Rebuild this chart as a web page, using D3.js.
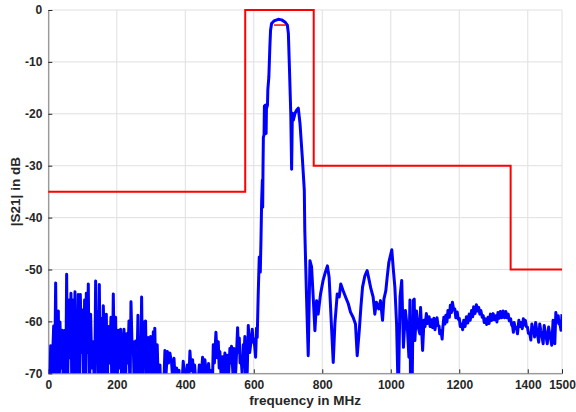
<!DOCTYPE html>
<html>
<head>
<meta charset="utf-8">
<script src="https://cdn.jsdelivr.net/npm/d3@7"></script>
<style>
  body { margin: 0; background: #fff; }
  text { font-family: "Liberation Sans", Arial, sans-serif; }
</style>
</head>
<body>
<div id="wrapper"></div>
<script>
// values (MHz, dB)
const xTicks = [0, 200, 400, 600, 800, 1000, 1200, 1400, 1500]
const yTicks = [0, -10, -20, -30, -40, -50, -60, -70]

// limit mask
const maskF = [0, 575, 575, 775, 775, 1350, 1350, 1500]
const maskDb = [-35, -35, 0, 0, -30, -30, -50, -50]
// short -3 dB marker in the passband
const markF = [659, 694]
const markDb = [-2.9, -2.9]

// stopband below the filter (very noisy, dips go off the bottom)
const lowF = [3, 7, 9, 12, 15.7, 18, 21.5, 24, 26, 29.3, 31.5, 34.1, 37, 41, 44, 48.7, 51, 53.6, 56, 60.4,
  63, 66.2, 69, 72, 75, 77.9, 80, 82.8, 85, 87.6, 90.5, 93.5, 97, 100, 103, 106, 108.5, 111, 114, 116.8,
  120, 123.6, 127, 131.4, 135, 138.2, 140.5, 143, 146, 149, 151.5, 153.8, 157, 160.6, 164, 166, 169.4, 172, 175.2, 179,
  183, 186, 189.8, 193, 196.6, 200, 204.4, 207.5, 211.2, 215, 218, 221, 225, 228.7, 232, 235.6, 238.5, 241.4, 245, 248,
  251.5, 255, 258.5, 261.8, 264, 266.6, 269.5, 272.5, 276, 279.3, 281.5, 284, 288, 292, 295.5, 299, 303, 306.6, 309, 311,
  315, 318, 322, 326, 329, 336, 340.5, 344, 347.5, 351, 355, 360, 363, 367, 371, 374.7, 378, 381.6, 387, 394,
  399, 406, 410, 413.6, 417, 421.4, 425, 427.3, 434, 441, 446, 450.6, 454, 457.4, 462, 468, 472, 476.9, 479, 481.7,
  485, 489.5, 493, 496.3, 499, 501, 505, 509, 512, 515.7, 519, 522.5, 526, 530.3, 533, 535, 539, 542, 545, 548,
  552.8, 555, 557.7, 560, 562.5, 566, 569.3, 571, 574, 577, 581, 584, 588, 591, 595.6, 598, 600.4, 603, 605.3, 608, 610]
const lowDb = [-75, -64.7, -76, -68, -60.9, -74, -52.6, -70, -64, -58, -76, -60.1, -69, -61.7, -75, -61.7, -72, -50.9, -74, -55.9,
  -67, -54.6, -76, -55.9, -70, -54.3, -74, -59.4, -68, -54.8, -76, -54.8, -66, -57.8, -75, -55.9, -72, -54.6, -66, -52.8,
  -76, -58.6, -69, -63.9, -76, -52.2, -66, -58.1, -74, -52.9, -70, -59.4, -76, -57, -66, -73, -58.6, -75, -61, -68,
  -59.2, -76, -54.7, -70, -59.2, -76, -61.7, -69, -61.5, -76, -65, -61.5, -74, -62.4, -68, -59.9, -76, -56.2, -66, -63.9,
  -75, -63.8, -70, -58.8, -76, -64.4, -72, -55.3, -76, -60.1, -68, -59.9, -76, -63.1, -71, -62.9, -76, -62, -70, -61.3,
  -76, -64.5, -74, -68.4, -76, -75, -65.6, -70, -65.8, -68, -66.1, -68, -71, -67.1, -72, -69, -73, -69.4, -76, -67.7,
  -72, -68.4, -72, -65.7, -69.5, -67.4, -72, -68.4, -75, -68.4, -71, -66.9, -70, -67.4, -71, -68.1, -72, -69.4, -73, -64.5,
  -68, -62.1, -67, -63.9, -69, -65.8, -71, -66.8, -70, -66.1, -70, -66.5, -71, -65.2, -68, -64.8, -70, -65.2, -72, -68.7,
  -61.2, -66, -63.2, -68, -66.8, -70, -64.5, -67, -62.9, -75, -69.4, -60.8, -66, -64.4, -61.5, -64, -63.4, -65, -66.9, -61.3, -63.1]

// passband and the skirts either side
const passF = [613, 616, 619, 621, 623, 625, 626, 627, 628, 630, 631, 634, 636, 637, 640, 641, 644, 647, 649, 652,
  659, 671.6, 681.4, 691, 698, 701, 704, 708, 710.5, 712.6, 715.5, 720.4, 725, 730, 735, 741.6, 747.5, 749, 754, 759]
const passDb = [-54.7, -47.6, -50.5, -44.4, -36.7, -32.8, -38, -30, -24.5, -24.1, -18.5, -18.3, -23.8, -19, -18.3, -15.4, -12.9, -7, -3.9, -2.6,
  -2.1, -1.8, -1.9, -2.3, -2.9, -4.5, -10.9, -19.9, -30.7, -19.9, -21.2, -19.9, -19.3, -18.9, -21.9, -28.3, -34.7, -42.5, -55.3, -66.6]

// stopband above the filter
const highF = [764, 768.8, 773.5, 778.5, 783.4, 788, 795, 802.4, 809, 815, 820, 827, 832, 836.8, 843.7, 849.5, 854, 861, 868, 876,
  882.4, 890, 897, 902, 908, 912.7, 917.6, 924.4, 931, 937, 942, 948.5, 953.5, 958, 965, 970, 976, 980, 985.5, 989.5,
  994.4, 999, 1003, 1007, 1012, 1017, 1022, 1027, 1032, 1037, 1042.7, 1049, 1053, 1056, 1058, 1060, 1062, 1064, 1066, 1068.5,
  1070.4, 1075, 1080, 1085, 1087, 1093, 1097, 1100, 1104, 1108, 1112, 1115, 1119, 1122, 1126, 1129, 1132, 1135, 1138, 1141,
  1143, 1147, 1150, 1152, 1155, 1158, 1161, 1164, 1167, 1171, 1174, 1177, 1180, 1184, 1187, 1190, 1194, 1197, 1200, 1203,
  1206, 1210, 1213, 1217, 1221, 1225, 1229, 1232, 1236, 1239, 1242, 1246, 1250, 1253, 1257, 1260, 1263, 1267, 1270, 1273,
  1277, 1280, 1284, 1287, 1291, 1295, 1299, 1303, 1307, 1310, 1313, 1317, 1320, 1324, 1328, 1332, 1336, 1339, 1343, 1346,
  1350, 1353, 1356, 1358, 1360, 1364, 1367, 1370, 1374, 1377, 1380, 1384, 1387, 1390, 1393, 1396, 1399, 1402, 1406, 1409,
  1412, 1415, 1418, 1420, 1423, 1426, 1429, 1432, 1435, 1438, 1442, 1445, 1448, 1451, 1454, 1457, 1461, 1464, 1467, 1470,
  1474, 1476, 1479, 1482, 1485, 1489, 1491, 1494, 1497, 1500]
const highDb = [-48.3, -49.5, -55.3, -61.8, -56, -58.6, -54.7, -52.1, -50.5, -49.3, -51.5, -61.1, -67.9, -60.5, -54.7, -55.3, -52.8, -54.1, -55.3, -56.6,
  -58.2, -59.2, -60.5, -66.6, -61.8, -57.3, -53.4, -51.2, -50.2, -52.1, -53.7, -55.3, -58.6, -56.3, -57.6, -56, -59.8, -55.7, -54.1, -51.5,
  -48.6, -47.3, -46.2, -49.6, -53.4, -60.5, -75, -55.3, -52.1, -65, -57.9, -61.8, -66.9, -55.9, -75, -64, -75, -63.7, -55.9, -55.7,
  -63.7, -58, -61.1, -62.4, -57.3, -65.6, -59.8, -61, -58.5, -60.4, -59.1, -61, -59.7, -61.2, -59.4, -61.6, -60.4, -59.3, -60.8, -60.9,
  -62.4, -61.8, -63.4, -61.2, -59.2, -60.5, -58.8, -60.1, -57.9, -59.2, -56.9, -58.3, -56.3, -57.8, -57.6, -59.3, -58.2, -59.6, -59.4, -61,
  -60.5, -61.6, -59.8, -61, -59.1, -60.3, -58.6, -59.8, -57.9, -59.1, -57.2, -58.5, -56.8, -58, -57.3, -58.6, -57.9, -59.2, -58.9, -60.2,
  -59.5, -60.6, -59.2, -60.4, -58.6, -59.8, -58.5, -59.7, -58.9, -60.1, -58.3, -59.4, -58.1, -59.3, -58, -59.3, -58.1, -59.3, -58.6, -59.9,
  -59.5, -60.7, -61, -62.1, -60.2, -61.4, -61.2, -62.4, -59.8, -61, -60.2, -61.4, -59.5, -60.7, -59.8, -61, -61.1, -62.3, -62.4, -63.6,
  -60.5, -61.7, -61.8, -63, -60.2, -61.6, -62.7, -64, -60.5, -61.8, -63.1, -64.3, -60.8, -62, -63.1, -64.3, -61.1, -62.4, -63.4, -64.6,
  -59.8, -61.8, -64.3, -58.3, -60.1, -58.9, -60.5, -60.5, -61.7, -58.6]

const traceF = lowF.concat(passF, highF)
const traceDb = lowDb.concat(passDb, highDb)

const W = 576, H = 412
const margin = { top: 10, right: 14, bottom: 38.7, left: 48.3 }
const innerW = W - margin.left - margin.right
const innerH = H - margin.top - margin.bottom

const svg = d3.select('#wrapper')
  .append('svg')
  .attr('width', W)
  .attr('height', H)

const g = svg.append('g')
  .attr('transform', `translate(${margin.left},${margin.top})`)

const x = d3.scaleLinear().domain([0, 1500]).range([0, innerW])
const y = d3.scaleLinear().domain([-70, 0]).range([innerH, 0])

svg.append('defs').append('clipPath').attr('id', 'plotclip')
  .append('rect').attr('width', innerW).attr('height', innerH)

// grid
g.append('g').selectAll('line').data(xTicks).join('line')
  .attr('x1', d => x(d)).attr('x2', d => x(d))
  .attr('y1', 0).attr('y2', innerH)
  .attr('stroke', '#e0e0e0').attr('stroke-width', 1)
g.append('g').selectAll('line').data(yTicks).join('line')
  .attr('x1', 0).attr('x2', innerW)
  .attr('y1', d => y(d)).attr('y2', d => y(d))
  .attr('stroke', '#e0e0e0').attr('stroke-width', 1)

// axes, ticks point inward like matlab
const xAxis = g.append('g')
  .attr('transform', `translate(0,${innerH})`)
  .call(d3.axisBottom(x).tickValues(xTicks).tickSize(-4).tickPadding(7).tickFormat(d => String(d)))
const yAxis = g.append('g')
  .call(d3.axisLeft(y).tickValues(yTicks).tickSize(-4).tickPadding(6).tickFormat(d => String(d)))

;[xAxis, yAxis].forEach(a => {
  a.select('.domain').attr('stroke', '#7a7a7a').attr('stroke-width', 1)
  a.selectAll('.tick line').attr('stroke', '#262626')
  a.selectAll('.tick text')
    .attr('fill', '#262626')
    .style('font-size', '12px')
    .style('font-weight', 'bold')
    .style('font-family', '"Liberation Sans", Arial, sans-serif')
})

// mask
const line = d3.line().x(i => x(i[0])).y(i => y(i[1]))
g.append('path')
  .datum(d3.zip(maskF, maskDb))
  .attr('d', line)
  .attr('fill', 'none')
  .attr('stroke', '#ff0000')
  .attr('stroke-width', 2)

// measured S21
g.append('path')
  .datum(d3.zip(traceF, traceDb))
  .attr('clip-path', 'url(#plotclip)')
  .attr('d', line)
  .attr('fill', 'none')
  .attr('stroke', '#0000ff')
  .attr('stroke-width', 3)
  .attr('stroke-linejoin', 'round')

g.append('path')
  .datum(d3.zip(markF, markDb))
  .attr('d', line)
  .attr('fill', 'none')
  .attr('stroke', '#ff0000')
  .attr('stroke-width', 1.5)

// labels
svg.append('text')
  .attr('x', margin.left + innerW / 2)
  .attr('y', 405)
  .attr('text-anchor', 'middle')
  .attr('fill', '#262626')
  .style('font-size', '13.5px')
  .style('font-weight', 'bold')
  .text('frequency in MHz')

svg.append('text')
  .attr('transform', `translate(20,${margin.top + innerH / 2}) rotate(-90)`)
  .attr('text-anchor', 'middle')
  .attr('fill', '#262626')
  .style('font-size', '13.5px')
  .style('font-weight', 'bold')
  .text('|S21| in dB')
</script>
</body>
</html>
